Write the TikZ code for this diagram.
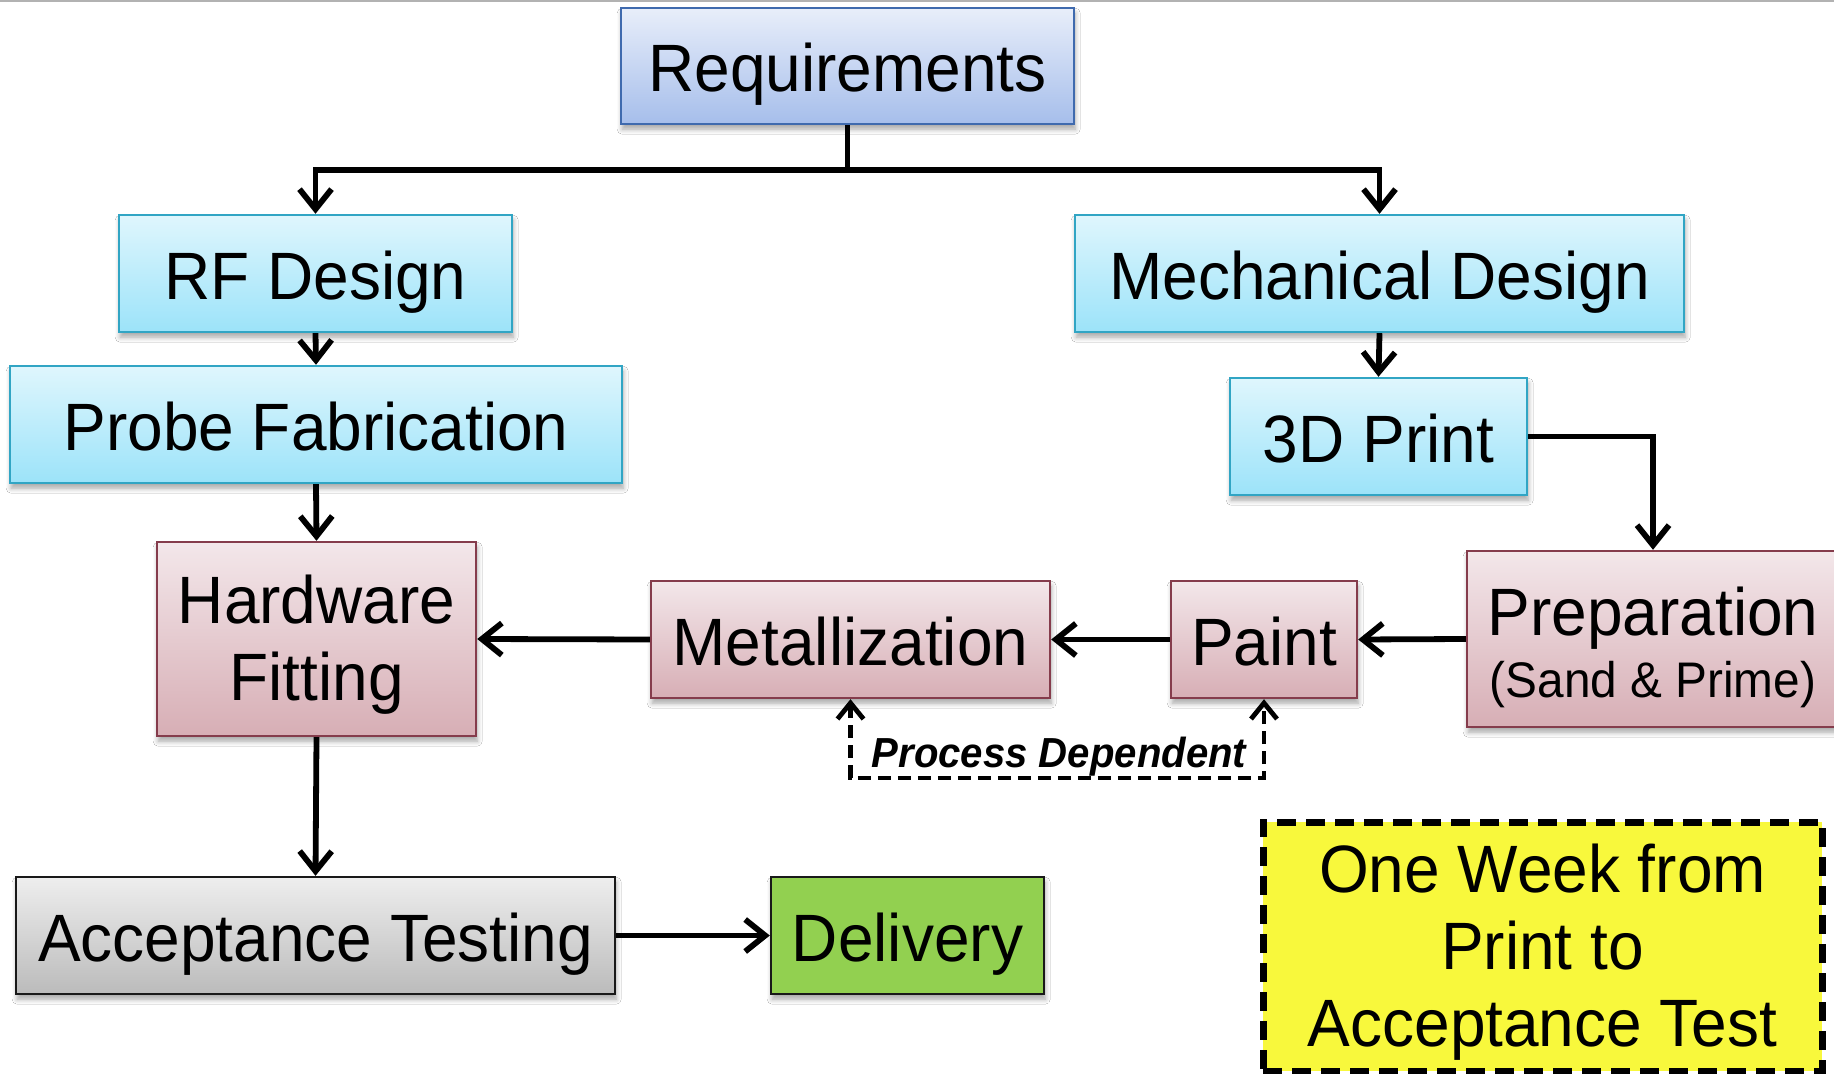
\documentclass[tikz,border=0pt]{standalone}
\usepackage{fontspec}
\setmainfont{Liberation Sans}[FakeStretch=0.955]
\usetikzlibrary{arrows.meta,shadows.blur}

\definecolor{reqtop}{HTML}{E8EEFA}
\definecolor{reqbot}{HTML}{A6BEEB}
\definecolor{reqline}{HTML}{3F6AAE}
\definecolor{cytop}{HTML}{DFF6FD}
\definecolor{cybot}{HTML}{9CE3F9}
\definecolor{cyline}{HTML}{31A5C4}
\definecolor{pktop}{HTML}{F3E7EA}
\definecolor{pkbot}{HTML}{D7AEB5}
\definecolor{pkline}{HTML}{853C4C}
\definecolor{grtop}{HTML}{EEEEEE}
\definecolor{grbot}{HTML}{BBBBBB}
\definecolor{delgreen}{HTML}{92D050}
\definecolor{noteyellow}{HTML}{F8F83C}

% strut used on every line of the multi-line boxes
\newcommand\linestrut{\rule[-4pt]{0pt}{34pt}}

\tikzset{
  bigtext/.style={font=\fontsize{33.5}{38.5}\selectfont},
  basebox/.style={bigtext, rectangle, inner sep=0pt, line width=1.2pt,
    blur shadow={shadow xshift=0.6pt, shadow yshift=-2.6pt,
      shadow blur radius=2.5pt, shadow blur steps=6, shadow opacity=35}},
  oneline/.style={text height=30pt, text depth=4pt},
  reqbox/.style={basebox, top color=reqtop, bottom color=reqbot, draw=reqline},
  cybox/.style={basebox, top color=cytop, bottom color=cybot, draw=cyline},
  pkbox/.style={basebox, top color=pktop, bottom color=pkbot, draw=pkline},
  grbox/.style={basebox, top color=grtop, bottom color=grbot, draw=black!90},
  delbox/.style={basebox, fill=delgreen, draw=black!90},
  notebox/.style={bigtext, rectangle, inner sep=0pt, fill=noteyellow,
    draw=black, line width=3.5pt, dash pattern=on 9.5pt off 5pt},
  conn/.style={line width=2.9pt, draw=black},
  arr/.style={conn, -{Straight Barb[length=10pt,width=16pt]}},
  dasharr/.style={line width=2.4pt, dash pattern=on 6.5pt off 3.5pt,
    {Straight Barb[length=8pt,width=13pt]}-{Straight Barb[length=8pt,width=13pt]}},
  box/.style n args={2}{minimum width=#1*0.5pt, minimum height=#2*0.5pt},
}

\begin{document}
\begin{tikzpicture}[x=0.5pt, y=-0.5pt]
\useasboundingbox (0,0) rectangle (1834,1074);
\fill[white] (0,0) rectangle (1834,1074);
\draw[black!30, line width=1.2pt] (0,1) -- (1834,1);

% process boxes
\node[reqbox, oneline, box={453}{116}] (req)   at (847.5,66)   {Requirements};
\node[cybox, oneline, box={393}{117}]  (rf)    at (315.5,273.5) {RF Design};
\node[cybox, oneline, box={612}{117}]  (probe) at (316,424.5)  {Probe Fabrication};
\node[cybox, oneline, box={609}{117}]  (mech)  at (1379.5,273.5) {Mechanical Design};
\node[cybox, oneline, box={297}{117}]  (print) at (1378.5,436.5) {3D Print};
\node[pkbox, box={372}{176}]           (prep)  at (1653,639)   {};
\node[bigtext, anchor=base, inner sep=0pt] (preptitle) at (1653,635) {Preparation};
\node[font=\fontsize{25}{30}\selectfont, anchor=base, inner sep=0pt] (prepsub) at (1653,697) {(Sand \& Prime)};
\node[pkbox, oneline, box={186}{117}]  (paint) at (1264,639.5) {Paint};
\node[pkbox, oneline, box={399}{117}]  (metal) at (850.5,639.5) {Metallization};
\node[pkbox, align=center, box={319}{194}] (hw) at (316.5,639)
  {\linestrut Hardware\\\linestrut Fitting};
\node[grbox, oneline, box={599}{117}]  (acc)   at (315.5,935.5) {Acceptance Testing};
\node[delbox, oneline, box={273}{117}] (deliv) at (907.5,935.5) {Delivery};

% schedule note
\node[notebox, align=center, box={559}{249}] (note) at (1542.5,946.5)
  {\linestrut One Week from\\\linestrut Print to\\\linestrut Acceptance Test};

% connectors
\coordinate (split) at (847.5,170);
\draw[conn] (req.south) -- (split);
\draw[arr] (split) -| (rf.north);
\draw[arr] (split) -| (mech.north);
\draw[arr] (rf.south) -- (probe.north);
\draw[arr] (mech.south) -- (print.north);
\draw[arr] (print.east) -| (prep.north);
\draw[arr] (prep.west) -- (paint.east);
\draw[arr] (paint.west) -- (metal.east);
\draw[arr] (metal.west) -- (hw.east);
\draw[arr] (probe.south) -- (hw.north);
\draw[arr] (hw.south) -- (acc.north);
\draw[arr] (acc.east) -- (deliv.west);

% optional step between painting and metallization
\draw[dasharr] (metal.south) -- (metal.south |- 0,778) -| (paint.south);
\node[font=\fontsize{21}{25}\selectfont\bfseries\itshape, anchor=base, inner sep=0pt]
  (pdep) at (1059,767) {Process Dependent};
\end{tikzpicture}
\end{document}
